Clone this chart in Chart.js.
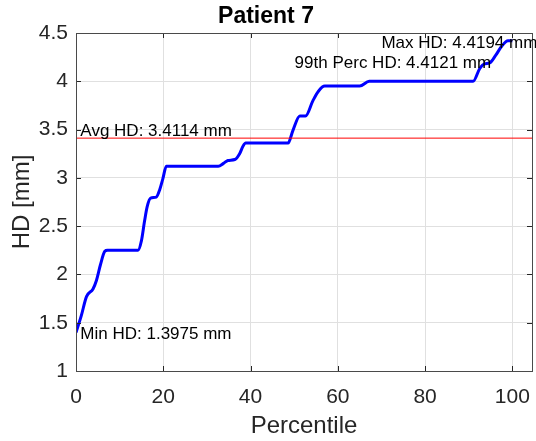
<!DOCTYPE html>
<html>
<head>
<meta charset="utf-8">
<script src="https://cdn.jsdelivr.net/npm/chart.js@4/dist/chart.umd.min.js"></script>
<style>
  html, body { margin: 0; padding: 0; background: #ffffff; }
  #wrap { width: 536px; height: 441px; }
</style>
</head>
<body>
<div id="wrap"><canvas id="c" width="536" height="441"></canvas></div>
<script>
// ---- data ----
const percentiles = [0, 1.2, 2.4, 3.9, 4.7, 5.6, 6.6, 7.2, 14.2, 15.0, 15.7, 16.3, 17.1, 18.4, 19.2, 19.9, 20.7,
  32.6, 33.8, 34.8, 36.4, 37.5, 38.3, 38.9, 48.6, 49.7, 51.3, 52.6, 54.3, 55.6, 57.0, 65.0, 67.2,
  91.0, 92.5, 93.6, 94.8, 96.2, 97.5, 99.0, 100];
const hdValues = [1.3975, 1.57, 1.77, 1.85, 1.94, 2.10, 2.24, 2.25, 2.25, 2.35, 2.55, 2.70, 2.79, 2.80, 2.88, 2.99, 3.12,
  3.12, 3.15, 3.18, 3.19, 3.25, 3.33, 3.36, 3.36, 3.49, 3.64, 3.64, 3.80, 3.90, 3.95, 3.95, 4.00,
  4.00, 4.13, 4.18, 4.19, 4.27, 4.36, 4.42, 4.4194];
const avgHD = [3.4114];
const xTickValues = [0, 20, 40, 60, 80, 100];
const yTickValues = [1, 1.5, 2, 2.5, 3, 3.5, 4, 4.5];
const xLimits = [0, 104.5];
const yLimits = [1, 4.5];
const titleText = 'Patient 7';
const xLabel = 'Percentile';
const yLabel = 'HD [mm]';
const annotationTexts = ['Avg HD: 3.4114 mm', 'Min HD: 1.3975 mm', '99th Perc HD: 4.4121 mm', 'Max HD: 4.4194 mm'];
const annotationX = [1.0, 1.0, 50.1, 70.0];
const annotationY = [3.487, 1.383, 4.19, 4.389];

const FONT = "'Liberation Sans', Arial, Helvetica, sans-serif";

const curvePoints = percentiles.map((p, i) => ({ x: p, y: hdValues[i] }));
const avgPoints = xLimits.map(x => ({ x: x, y: avgHD[0] }));

const boxPlugin = {
  id: 'boxAndText',
  afterDraw(chart) {
    const { ctx, chartArea: a, scales: { x, y } } = chart;
    ctx.save();
    // inward tick marks
    ctx.strokeStyle = '#262626';
    ctx.lineWidth = 1;
    const tl = 5;
    xTickValues.forEach(v => {
      const px = Math.round(x.getPixelForValue(v)) + 0.5;
      ctx.beginPath();
      ctx.moveTo(px, a.bottom); ctx.lineTo(px, a.bottom - tl);
      ctx.moveTo(px, a.top); ctx.lineTo(px, a.top + tl);
      ctx.stroke();
    });
    yTickValues.forEach(v => {
      const py = Math.round(y.getPixelForValue(v)) + 0.5;
      ctx.beginPath();
      ctx.moveTo(a.left, py); ctx.lineTo(a.left + tl, py);
      ctx.moveTo(a.right, py); ctx.lineTo(a.right - tl, py);
      ctx.stroke();
    });
    // box
    ctx.strokeStyle = '#4a4a4a';
    ctx.strokeRect(Math.round(a.left) + 0.5, Math.round(a.top) + 0.5,
      Math.round(a.right - a.left), Math.round(a.bottom - a.top));
    // annotations
    ctx.fillStyle = '#000000';
    ctx.font = '17px ' + FONT;
    ctx.textAlign = 'left';
    ctx.textBaseline = 'middle';
    annotationTexts.forEach((t, i) => {
      ctx.fillText(t, x.getPixelForValue(annotationX[i]), y.getPixelForValue(annotationY[i]));
    });
    ctx.restore();
  }
};

new Chart(document.getElementById('c'), {
  type: 'scatter',
  data: {
    datasets: [
      {
        label: 'Avg',
        data: avgPoints,
        showLine: true,
        borderColor: '#ff0000',
        borderWidth: 1,
        pointRadius: 0,
        order: 0
      },
      {
        label: 'HD',
        data: curvePoints,
        showLine: true,
        borderColor: '#0000ff',
        borderWidth: 3,
        pointRadius: 0,
        cubicInterpolationMode: 'monotone',
        order: 1
      }
    ]
  },
  plugins: [boxPlugin],
  options: {
    responsive: false,
    animation: false,
    devicePixelRatio: 1,
    layout: { padding: { left: 0, right: 4, top: 0, bottom: 0 } },
    plugins: {
      legend: { display: false },
      tooltip: { enabled: false },
      title: {
        display: true,
        text: titleText,
        color: '#000000',
        font: { family: FONT, size: 23, weight: 'bold' },
        padding: { top: 3, bottom: 2.4 }
      }
    },
    scales: {
      x: {
        type: 'linear',
        min: xLimits[0],
        max: xLimits[1],
        afterBuildTicks: s => { s.ticks = xTickValues.map(v => ({ value: v })); },
        afterFit: s => { s.height = 70; s.paddingLeft = 0; s.paddingRight = 0; },
        grid: { color: '#e0e0e0', drawTicks: false, lineWidth: 1 },
        border: { display: false },
        ticks: { color: '#262626', font: { family: FONT, size: 21 }, padding: 14, maxRotation: 0 },
        title: { display: true, text: xLabel, color: '#262626', font: { family: FONT, size: 24 }, padding: { top: 0, bottom: 0 } }
      },
      y: {
        type: 'linear',
        min: yLimits[0],
        max: yLimits[1],
        afterBuildTicks: s => { s.ticks = yTickValues.map(v => ({ value: v })); },
        afterFit: s => { s.width = 76; },
        grid: { color: '#e0e0e0', drawTicks: false, lineWidth: 1 },
        border: { display: false },
        ticks: { color: '#262626', font: { family: FONT, size: 21 }, padding: 8, callback: v => String(v) },
        title: { display: true, text: yLabel, color: '#262626', font: { family: FONT, size: 24 }, padding: { top: 8, bottom: 0 } }
      }
    }
  }
});
</script>
</body>
</html>
